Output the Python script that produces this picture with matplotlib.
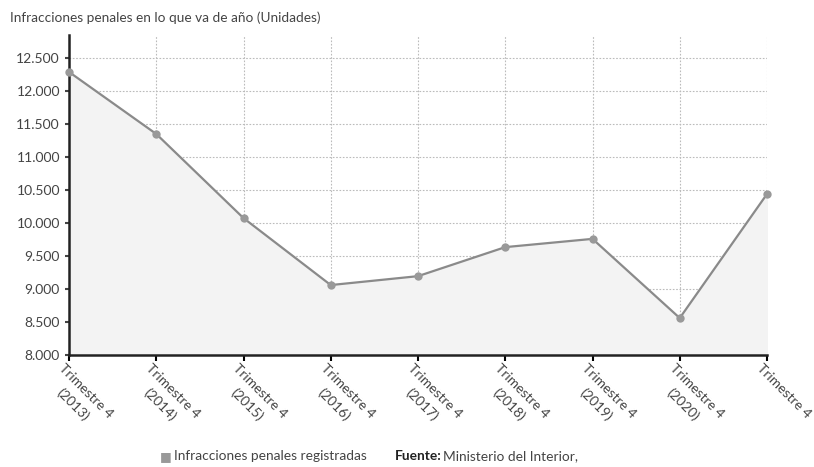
import matplotlib.pyplot as plt
import matplotlib.transforms as mtransforms
import numpy as np

plt.rcParams['font.family'] = ['Lato', 'DejaVu Sans']

years = [2013, 2014, 2015, 2016, 2017, 2018, 2019, 2020, 2021]
infracciones = [12290, 11350, 10075, 9060, 9195, 9635, 9760, 8560, 10440]
labels = ["Trimestre 4\n(%d)" % y for y in years[:-1]] + ["Trimestre 4"]
yticks = np.arange(8000, 12501, 500)

fig = plt.figure(figsize=(8.14, 4.67), dpi=100)
ax = fig.add_axes([69 / 814, 1 - 355 / 467, 698 / 814, 320 / 467])

x = np.arange(len(years))
ax.fill_between(x, infracciones, 8000, color="#f3f3f3", zorder=1)
ax.plot(x, infracciones, color="#8a8a8a", lw=1.6, zorder=3, clip_on=False)
ax.scatter(x, infracciones, s=36, color="#999999", zorder=4, linewidths=0, clip_on=False)

ax.set_xlim(0, 8)
ax.set_ylim(8000, 12850)
ax.set_yticks(yticks)
ax.set_yticklabels(["{:,}".format(v).replace(",", ".") for v in yticks])
ax.set_xticks(x)
ax.set_xticklabels(labels, rotation=-45, ha="left", va="top",
                   rotation_mode="anchor", fontsize=10, color="#444444",
                   linespacing=1.6, multialignment="center")
ax.tick_params(axis="y", labelsize=10, colors="#444444", length=3, width=1.5, direction="out")
ax.tick_params(axis="x", length=4, width=1.5, direction="out", pad=1)
shift = mtransforms.ScaledTranslation(-4 / 100, 0, fig.dpi_scale_trans)
for lab in ax.get_xticklabels():
    lab.set_color("#444444")
    lab.set_transform(lab.get_transform() + shift)

ax.grid(True, color="#bbbbbb", ls=(0, (1.5, 1.5)), lw=0.8, zorder=0)
ax.set_axisbelow(True)
for s in ["top", "right"]:
    ax.spines[s].set_visible(False)
ax.spines["left"].set_color("#222222")
ax.spines["left"].set_linewidth(1.8)
ax.spines["bottom"].set_color("#222222")
ax.spines["bottom"].set_linewidth(1.8)

fig.text(10 / 814, 1 - 18 / 467, "Infracciones penales en lo que va de año (Unidades)",
         fontsize=9.8, color="#444444", va="center", ha="left")

fig.text(160 / 814, 1 - 456 / 467, "■", fontsize=9, color="#999999", va="center", ha="left")
fig.text(174 / 814, 1 - 456 / 467, "Infracciones penales registradas",
         fontsize=9.9, color="#444444", va="center", ha="left")
fig.text(395 / 814, 1 - 456 / 467, "Fuente:", fontsize=9.9, fontweight="bold",
         color="#222222", va="center", ha="left")
fig.text(443 / 814, 1 - 456 / 467, "Ministerio del Interior,",
         fontsize=9.9, color="#444444", va="center", ha="left")

fig.savefig("out.png", dpi=100)
